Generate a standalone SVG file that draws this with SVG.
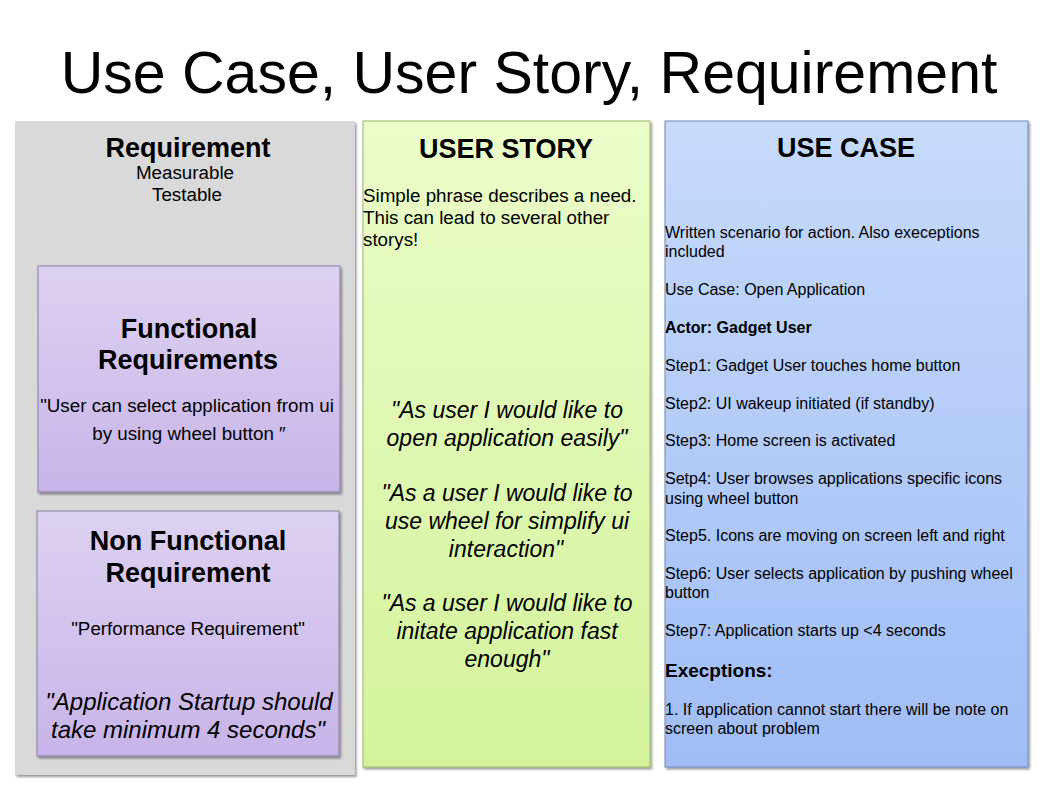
<svg xmlns="http://www.w3.org/2000/svg" width="1058" height="793" viewBox="0 0 1058 793">
<defs>
<linearGradient id="gGreen" x1="0" y1="0" x2="0" y2="1"><stop offset="0" stop-color="#ebfdc9"/><stop offset="1" stop-color="#d3f39b"/></linearGradient>
<linearGradient id="gBlue" x1="0" y1="0" x2="0" y2="1"><stop offset="0" stop-color="#c6dafb"/><stop offset="1" stop-color="#a0bdf5"/></linearGradient>
<linearGradient id="gPurple" x1="0" y1="0" x2="0" y2="1"><stop offset="0" stop-color="#ddd1f1"/><stop offset="1" stop-color="#c8b4e9"/></linearGradient>
<filter id="sh" x="-5%" y="-5%" width="115%" height="115%"><feDropShadow dx="1.5" dy="2" stdDeviation="1.2" flood-color="#000" flood-opacity="0.4"/></filter>
</defs>
<style>
text{font-family:"Liberation Sans",Arial,sans-serif;fill:#000}
.h{font-weight:bold;font-size:27px;text-anchor:middle}
.c{text-anchor:middle}
.s16{font-size:18.8px}
.s14{font-size:16px}
.it{font-style:italic}
</style>
<rect width="1058" height="793" fill="#fff"/>
<text x="529" y="93" class="c" font-size="59">Use Case, User Story, Requirement</text>

<g id="requirement">
<rect x="15" y="121" width="340" height="654" fill="#d9d9d9" filter="url(#sh)"/>
<text x="188" y="157" class="h">Requirement</text>
<text x="185" y="179" class="c s16">Measurable</text>
<text x="187" y="201" class="c s16">Testable</text>
</g>

<g id="functional">
<rect x="38" y="266" width="302" height="226" fill="url(#gPurple)" stroke="#8a7fa3" stroke-width="1" filter="url(#sh)"/>
<text x="189" y="338" class="h">Functional</text>
<text x="188" y="369" class="h">Requirements</text>
<text x="187" y="412" class="c s16">"User can select application from ui</text>
<text x="189" y="440" class="c s16">by using wheel button ″</text>
</g>

<g id="nonfunctional">
<rect x="37" y="511" width="302" height="245" fill="url(#gPurple)" stroke="#8a7fa3" stroke-width="1" filter="url(#sh)"/>
<text x="188" y="550" class="h">Non Functional</text>
<text x="188" y="582" class="h">Requirement</text>
<text x="188" y="635" class="c s16">"Performance Requirement"</text>
<text x="189" y="710" class="c it" font-size="24">"Application  Startup should</text>
<text x="188" y="738" class="c it" font-size="24">take minimum  4  seconds"</text>
</g>

<g id="userstory">
<rect x="363" y="121" width="287" height="646" fill="url(#gGreen)" stroke="#9bb36a" stroke-width="1" filter="url(#sh)"/>
<text x="506" y="158" class="h">USER STORY</text>
<text x="363" y="202" class="s16">Simple phrase describes a need.</text>
<text x="363" y="224" class="s16">This can lead to several other</text>
<text x="363" y="246" class="s16">storys!</text>
<g class="c it" font-size="23">
<text x="507" y="418">"As user I would like to</text>
<text x="507" y="446">open application easily"</text>
<text x="507" y="501">"As a user I would like to</text>
<text x="507" y="529">use wheel for simplify ui</text>
<text x="506" y="557">interaction"</text>
<text x="507" y="611">"As a user I would like to</text>
<text x="507" y="639">initate application fast</text>
<text x="507" y="667">enough"</text>
</g>
</g>

<g id="usecase">
<rect x="665" y="121" width="363" height="646" fill="url(#gBlue)" stroke="#7089b5" stroke-width="1" filter="url(#sh)"/>
<text x="846" y="157" class="h">USE CASE</text>
<g class="s14">
<text x="665" y="238">Written scenario for action. Also execeptions</text>
<text x="665" y="257">included</text>
<text x="665" y="295">Use Case: Open Application</text>
<text x="665" y="333" font-weight="bold">Actor: Gadget User</text>
<text x="665" y="371">Step1: Gadget User touches home button</text>
<text x="665" y="409">Step2: UI wakeup initiated  (if standby)</text>
<text x="665" y="446">Step3: Home screen is activated</text>
<text x="665" y="484">Setp4: User browses applications specific icons</text>
<text x="665" y="504">using wheel button</text>
<text x="665" y="541">Step5. Icons are moving on screen left and right</text>
<text x="665" y="579">Step6: User selects application by pushing wheel</text>
<text x="665" y="598">button</text>
<text x="665" y="636">Step7: Application starts up &lt;4 seconds</text>
<text x="665" y="715">1. If application cannot start there will be note on</text>
<text x="665" y="734">screen about problem</text>
</g>
<text x="665" y="677" font-size="19" font-weight="bold">Execptions:</text>
</g>
</svg>
